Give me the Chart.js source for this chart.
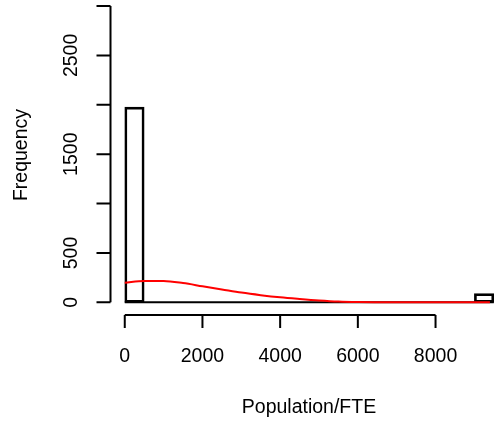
<!DOCTYPE html>
<html lang="en">
<head>
  <meta charset="UTF-8" />
  <title>Population/FTE histogram</title>
  <script src="https://cdn.jsdelivr.net/npm/chart.js"></script>
  <style>
    body { margin: 0; padding: 0; background: #fff; }
    #wrap { width: 494px; height: 427px; }
  </style>
</head>
<body>
  <div id="wrap"><canvas id="hist" width="494" height="427"></canvas></div>

  <script>
    // histogram bins (width 500) and their counts
    const binEdges = [0, 500, 1000, 1500, 2000, 2500, 3000, 3500, 4000, 4500, 5000,
                      5500, 6000, 6500, 7000, 7500, 8000, 8500, 9000, 9500];
    const binCounts = [1976, 0, 0, 0, 0, 0, 0, 0, 0, 0, 0, 0, 0, 0, 0, 0, 0, 0, 88];

    // red density curve, scaled to counts
    const curveX = [0, 500, 1000, 1500, 2000, 2500, 3000, 3500, 4000, 4500, 5000,
                    5500, 6000, 6500, 7000, 8000, 9000, 9400];
    const curveY = [199, 217, 216, 195, 163, 131, 99, 73, 51, 34, 19, 8, 3, 1, 0, 0, 0, 0];

    const xTicks = [0, 2000, 4000, 6000, 8000];
    const yTicks = [0, 500, 1000, 1500, 2000, 2500, 3000];

    const fontSize = 19.5;
    const font = fontSize + 'px "Liberation Sans", Arial, sans-serif';

    const barData = binCounts.map((c, i) => ({ x: (binEdges[i] + binEdges[i + 1]) / 2, y: c }));
    const baseLine = [{ x: binEdges[0], y: 0 }, { x: binEdges[binEdges.length - 1], y: 0 }];
    const curveData = curveX.map((x, i) => ({ x: x, y: curveY[i] }));

    // R style axes: line only from first to last tick, outward ticks
    const rAxes = {
      id: 'rAxes',
      afterDraw(chart) {
        const ctx = chart.ctx;
        const xs = chart.scales.x, ys = chart.scales.y;
        const area = chart.chartArea;
        ctx.save();
        ctx.strokeStyle = '#000';
        ctx.fillStyle = '#000';
        ctx.lineWidth = 2;
        ctx.font = font;

        // y axis
        const ax = area.left + 0.5;
        ctx.beginPath();
        ctx.moveTo(ax, ys.getPixelForValue(yTicks[0]));
        ctx.lineTo(ax, ys.getPixelForValue(yTicks[yTicks.length - 1]));
        yTicks.forEach(v => {
          const p = ys.getPixelForValue(v);
          ctx.moveTo(ax, p);
          ctx.lineTo(ax - 14, p);
        });
        ctx.stroke();
        ctx.textAlign = 'center';
        ctx.textBaseline = 'middle';
        // R skips labels that would overlap the last one drawn or not fit
        let lastTop = Infinity;
        yTicks.forEach(v => {
          const p = ys.getPixelForValue(v);
          const w = ctx.measureText(String(v)).width;
          if (p - w / 2 < 0) return;
          if (p + w / 2 > lastTop - fontSize) return;
          lastTop = p - w / 2;
          ctx.save();
          ctx.translate(72, p);
          ctx.rotate(-Math.PI / 2);
          ctx.fillText(String(v), 0, 0);
          ctx.restore();
        });

        // x axis
        const ay = area.bottom;
        ctx.beginPath();
        ctx.moveTo(xs.getPixelForValue(xTicks[0]), ay);
        ctx.lineTo(xs.getPixelForValue(xTicks[xTicks.length - 1]), ay);
        xTicks.forEach(v => {
          const p = xs.getPixelForValue(v);
          ctx.moveTo(p, ay);
          ctx.lineTo(p, ay + 13);
        });
        ctx.stroke();
        xTicks.forEach(v => {
          ctx.fillText(String(v), xs.getPixelForValue(v), 357);
        });

        // titles
        ctx.fillText('Population/FTE', 309, 408);
        ctx.save();
        ctx.translate(22, 155);
        ctx.rotate(-Math.PI / 2);
        ctx.fillText('Frequency', 0, 0);
        ctx.restore();
        ctx.restore();
      }
    };

    new Chart(document.getElementById('hist').getContext('2d'), {
      type: 'bar',
      data: {
        datasets: [
          {
            type: 'line', data: curveData, borderColor: '#ff0000', borderWidth: 2,
            pointRadius: 0, cubicInterpolationMode: 'monotone', order: 0
          },
          {
            type: 'line', data: baseLine, borderColor: '#000', borderWidth: 2,
            pointRadius: 0, order: 1
          },
          {
            type: 'bar', data: barData, backgroundColor: 'rgba(0,0,0,0)', borderColor: '#000',
            borderWidth: 2, borderSkipped: false, barPercentage: 1, categoryPercentage: 1, order: 2
          }
        ]
      },
      options: {
        responsive: false,
        animation: false,
        devicePixelRatio: 1,
        layout: { padding: { left: 110, right: 0, top: 0, bottom: 112 } },
        plugins: { legend: { display: false }, tooltip: { enabled: false } },
        scales: {
          x: { type: 'linear', min: -380, max: 9505, offset: false, display: false },
          y: { min: -128, max: 3061, display: false }
        }
      },
      plugins: [rAxes]
    });
  </script>
</body>
</html>
